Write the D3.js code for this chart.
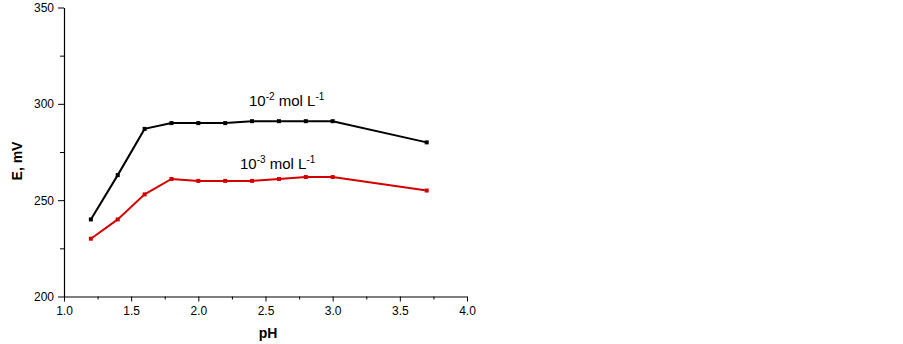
<!DOCTYPE html>
<html><head><meta charset="utf-8">
<script src="https://cdn.jsdelivr.net/npm/d3@7"></script>
<style>body{margin:0;background:#fff;}svg{display:block;font-family:"Liberation Sans",Arial,sans-serif;}</style>
</head><body>
<svg id="c" width="903" height="344"></svg>
<script>
const pH = [1.2,1.4,1.6,1.8,2.0,2.2,2.4,2.6,2.8,3.0,3.7];
const e2 = [240,263,287,290,290,290,291,291,291,291,280];
const e3 = [230,240,253,261,260,260,260,261,262,262,255];
const xTicks = [1.0,1.5,2.0,2.5,3.0,3.5,4.0];
const yTicks = [200,250,300,350];

const svg = d3.select("#c");
const x = d3.scaleLinear().domain([1,4]).range([64,467]);
const y = d3.scaleLinear().domain([200,350]).range([296.5,7.5]);

const xa = svg.append("g").attr("transform","translate(0,296.5)")
  .call(d3.axisBottom(x).tickValues(d3.range(1,4.01,0.25)).tickSize(4).tickSizeOuter(0).tickFormat(d=>xTicks.some(t=>Math.abs(t-d)<1e-6)?d.toFixed(1):""));
xa.selectAll(".tick line").attr("y2",d=>xTicks.some(t=>Math.abs(t-d)<1e-6)?5:3);
const ya = svg.append("g").attr("transform","translate(64,0)")
  .call(d3.axisLeft(y).tickValues(d3.range(200,351,25)).tickSize(5).tickSizeOuter(0).tickFormat(d=>yTicks.includes(d)?d:""));
ya.selectAll(".tick line").attr("x2",d=>yTicks.includes(d)?-6:-4);
svg.selectAll(".domain").attr("stroke","#000").attr("stroke-width",1.2);
svg.selectAll(".tick text").attr("font-size",12).attr("fill","#000").attr("font-family","Liberation Sans, Arial, sans-serif");
xa.selectAll(".tick text").attr("dy","0.95em");
ya.selectAll(".tick text").attr("x",-10);

const line = d3.line().x(d=>x(d[0])).y(d=>y(d[1]));
[[e2,"#000"],[e3,"#d40000"]].forEach(([s,c])=>{
  const pts = pH.map((p,i)=>[p,s[i]]);
  svg.append("path").datum(pts).attr("d",line).attr("fill","none").attr("stroke",c).attr("stroke-width",2);
  svg.selectAll(null).data(pts).enter().append("rect")
    .attr("x",d=>x(d[0])-2).attr("y",d=>y(d[1])-2).attr("width",4).attr("height",4).attr("fill",c);
});

function lab(tx,ty,exp){
  const t = svg.append("text").attr("x",tx).attr("y",ty).attr("font-size",15).attr("fill","#000");
  t.append("tspan").text("10");
  t.append("tspan").attr("dy",-6).attr("font-size",10).text(exp);
  t.append("tspan").attr("dy",6).text(" mol L");
  t.append("tspan").attr("dy",-6).attr("font-size",10).text("-1");
}
lab(249,106,"-2");
lab(240,169,"-3");

svg.append("text").attr("transform","translate(22,161) rotate(-90)").attr("text-anchor","middle")
  .attr("font-size",14).attr("font-weight","bold").text("E, mV");
svg.append("text").attr("x",268).attr("y",338).attr("text-anchor","middle")
  .attr("font-size",14).attr("font-weight","bold").text("pH");
</script>
</body></html>
